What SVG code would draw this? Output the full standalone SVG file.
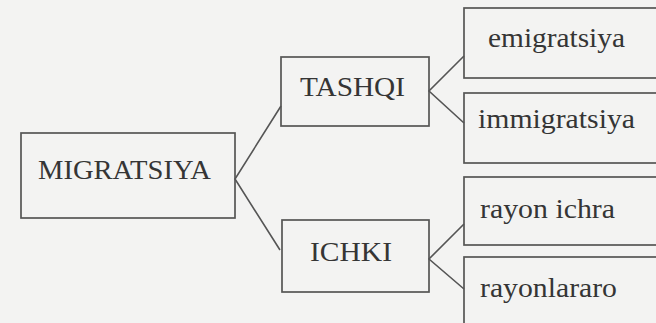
<svg xmlns="http://www.w3.org/2000/svg" width="656" height="323" viewBox="0 0 656 323">
<style>
.box{fill:none;stroke:#555;stroke-width:1.7}
.lbl{font-family:"Liberation Serif","Times New Roman",serif;font-size:28px;fill:#353535}
.con{fill:none;stroke:#555;stroke-width:1.6}
</style>
<rect width="656" height="323" fill="#f3f3f2"/>
<g id="connectors">
<polyline class="con" points="281,106 235,179 280,250"/>
<polyline class="con" points="464,56 429,91 464,123"/>
<polyline class="con" points="464,224 429,259 464,289"/>
</g>
<g id="migratsiya">
<rect class="box" x="21" y="133" width="214" height="85"/>
<text class="lbl" x="38" y="179" textLength="173" lengthAdjust="spacingAndGlyphs">MIGRATSIYA</text>
</g>
<g id="tashqi">
<rect class="box" x="281" y="57" width="148" height="69"/>
<text class="lbl" x="300" y="96" textLength="105" lengthAdjust="spacingAndGlyphs">TASHQI</text>
</g>
<g id="ichki">
<rect class="box" x="282" y="220" width="147" height="72"/>
<text class="lbl" x="310" y="261" textLength="82" lengthAdjust="spacingAndGlyphs">ICHKI</text>
</g>
<g id="emigratsiya">
<rect class="box" x="464" y="8" width="200" height="70"/>
<text class="lbl" x="488" y="47" textLength="137" lengthAdjust="spacingAndGlyphs">emigratsiya</text>
</g>
<g id="immigratsiya">
<rect class="box" x="464" y="93" width="200" height="70"/>
<text class="lbl" x="478" y="128" textLength="157" lengthAdjust="spacingAndGlyphs">immigratsiya</text>
</g>
<g id="rayon-ichra">
<rect class="box" x="464" y="177" width="200" height="68"/>
<text class="lbl" x="480" y="218" textLength="135" lengthAdjust="spacingAndGlyphs">rayon ichra</text>
</g>
<g id="rayonlararo">
<rect class="box" x="464" y="257" width="200" height="80"/>
<text class="lbl" x="480" y="297" textLength="137" lengthAdjust="spacingAndGlyphs">rayonlararo</text>
</g>
</svg>
